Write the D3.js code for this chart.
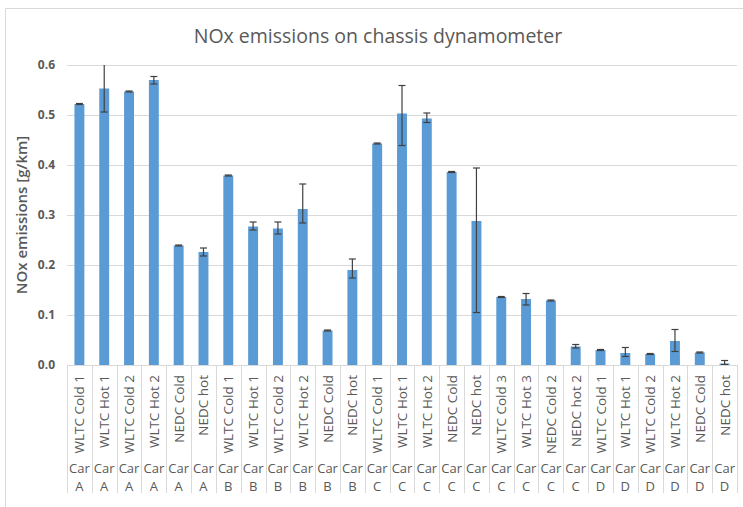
<!DOCTYPE html>
<html>
<head>
<meta charset="utf-8">
<script src="https://cdn.jsdelivr.net/npm/d3@7"></script>
<style>
  body { margin: 0; background: #fff; }
  text { font-family: "Open Sans", "Liberation Sans", sans-serif; fill: #595959; }
</style>
</head>
<body>
<div id="chart"></div>
<script>
// test labels, car labels, values and error bar ends (g/km)
var tests = ["WLTC Cold 1", "WLTC Hot 1", "WLTC Cold 2", "WLTC Hot 2", "NEDC Cold", "NEDC hot",
  "WLTC Cold 1", "WLTC Hot 1", "WLTC Cold 2", "WLTC Hot 2", "NEDC Cold", "NEDC hot",
  "WLTC Cold 1", "WLTC Hot 1", "WLTC Hot 2", "NEDC Cold", "NEDC hot", "WLTC Cold 3", "WLTC Hot 3", "NEDC Cold 2", "NEDC hot 2",
  "WLTC Cold 1", "WLTC Hot 1", "WLTC Cold 2", "WLTC Hot 2", "NEDC Cold", "NEDC hot"];
var cars = ["A", "A", "A", "A", "A", "A",
  "B", "B", "B", "B", "B", "B",
  "C", "C", "C", "C", "C", "C", "C", "C", "C",
  "D", "D", "D", "D", "D", "D"];
var nox = [0.522, 0.553, 0.547, 0.570, 0.239, 0.226,
  0.379, 0.277, 0.273, 0.312, 0.069, 0.190,
  0.443, 0.503, 0.493, 0.386, 0.288, 0.136, 0.132, 0.129, 0.037,
  0.030, 0.024, 0.022, 0.048, 0.025, 0.003];
var errHigh = [0.523, 0.610, 0.548, 0.577, 0.240, 0.234,
  0.380, 0.286, 0.286, 0.362, 0.070, 0.212,
  0.444, 0.559, 0.504, 0.387, 0.394, 0.137, 0.143, 0.130, 0.041,
  0.031, 0.035, 0.023, 0.071, 0.026, 0.009];
var errLow = [0.521, 0.506, 0.546, 0.562, 0.238, 0.218,
  0.378, 0.270, 0.262, 0.284, 0.068, 0.174,
  0.442, 0.439, 0.485, 0.385, 0.105, 0.135, 0.120, 0.128, 0.034,
  0.029, 0.017, 0.021, 0.027, 0.024, 0.001];
var yTicks = [0, 0.1, 0.2, 0.3, 0.4, 0.5, 0.6];

var w = 743, h = 507;
var plotL = 67, plotR = 737, plotT = 65, plotB = 365;

var svg = d3.select('#chart').append('svg')
  .attr('width', w)
  .attr('height', h);

// chart border
svg.append('path')
  .attr('d', 'M5.5,' + h + 'V8.5H' + w)
  .attr('fill', 'none')
  .attr('stroke', '#d9d9d9');

svg.append('text')
  .attr('x', 378).attr('y', 43)
  .attr('text-anchor', 'middle')
  .style('font-size', '19.5px')
  .text('NOx emissions on chassis dynamometer');

var idx = d3.range(tests.length);
var x = d3.scaleBand().domain(idx).range([plotL, plotR]).paddingInner(0.6).paddingOuter(0.3);
var y = d3.scaleLinear().domain([0, 0.6]).range([plotB, plotT]);

// gridlines
svg.selectAll('.grid')
  .data(yTicks.slice(1))
  .enter().append('line')
  .attr('x1', plotL).attr('x2', plotR)
  .attr('y1', function(d) { return Math.round(y(d)) + 0.5; })
  .attr('y2', function(d) { return Math.round(y(d)) + 0.5; })
  .attr('stroke', '#d9d9d9');

// y axis labels
svg.selectAll('.ytick')
  .data(yTicks)
  .enter().append('text')
  .attr('x', 55).attr('y', function(d) { return y(d) + 4; })
  .attr('text-anchor', 'end')
  .style('font-size', '12px')
  .style('font-weight', 'bold')
  .text(function(d) { return d3.format('.1f')(d); });

svg.append('text')
  .attr('transform', 'translate(27,' + (plotT + plotB) / 2 + ') rotate(-90)')
  .attr('text-anchor', 'middle')
  .style('font-size', '15px')
  .style('font-weight', '600')
  .text('NOx emissions [g/km]');

// bars
svg.selectAll('.bar')
  .data(idx)
  .enter().append('rect')
  .attr('x', function(i) { return x(i); })
  .attr('width', x.bandwidth())
  .attr('y', function(i) { return y(nox[i]); })
  .attr('height', function(i) { return y(0) - y(nox[i]); })
  .attr('fill', '#5b9bd5');

// error bars (clipped at the axis top)
var eb = svg.selectAll('.err')
  .data(idx)
  .enter().append('g')
  .attr('stroke', '#404040')
  .attr('stroke-width', 1.2);
eb.append('line')
  .attr('x1', function(i) { return x(i) + x.bandwidth() / 2; })
  .attr('x2', function(i) { return x(i) + x.bandwidth() / 2; })
  .attr('y1', function(i) { return y(Math.min(0.6, errHigh[i])); })
  .attr('y2', function(i) { return y(errLow[i]); });
eb.filter(function(i) { return errHigh[i] <= 0.6; }).append('line')
  .attr('x1', function(i) { return x(i) + x.bandwidth() / 2 - 3.5; })
  .attr('x2', function(i) { return x(i) + x.bandwidth() / 2 + 3.5; })
  .attr('y1', function(i) { return y(errHigh[i]); })
  .attr('y2', function(i) { return y(errHigh[i]); });
eb.append('line')
  .attr('x1', function(i) { return x(i) + x.bandwidth() / 2 - 3.5; })
  .attr('x2', function(i) { return x(i) + x.bandwidth() / 2 + 3.5; })
  .attr('y1', function(i) { return y(errLow[i]); })
  .attr('y2', function(i) { return y(errLow[i]); });

// baseline
svg.append('line')
  .attr('x1', plotL).attr('x2', plotR)
  .attr('y1', plotB + 0.5).attr('y2', plotB + 0.5)
  .attr('stroke', '#d9d9d9');

// category separators
var step = (plotR - plotL) / tests.length;
svg.selectAll('.sep')
  .data(d3.range(tests.length + 1))
  .enter().append('line')
  .attr('x1', function(i) { return Math.round(plotL + i * step) + 0.5; })
  .attr('x2', function(i) { return Math.round(plotL + i * step) + 0.5; })
  .attr('y1', plotB).attr('y2', 493)
  .attr('stroke', '#d9d9d9');

// category labels
svg.selectAll('.test')
  .data(idx)
  .enter().append('text')
  .attr('transform', function(i) { return 'translate(' + (x(i) + x.bandwidth() / 2 + 5) + ',375) rotate(-90)'; })
  .attr('text-anchor', 'end')
  .style('font-size', '13.5px')
  .text(function(i) { return tests[i]; });

svg.selectAll('.car')
  .data(idx)
  .enter().append('text')
  .attr('x', function(i) { return x(i) + x.bandwidth() / 2; })
  .attr('y', 473)
  .attr('text-anchor', 'middle')
  .style('font-size', '13px')
  .text('Car');

svg.selectAll('.carid')
  .data(idx)
  .enter().append('text')
  .attr('x', function(i) { return x(i) + x.bandwidth() / 2; })
  .attr('y', 491)
  .attr('text-anchor', 'middle')
  .style('font-size', '13px')
  .text(function(i) { return cars[i]; });
</script>
</body>
</html>
